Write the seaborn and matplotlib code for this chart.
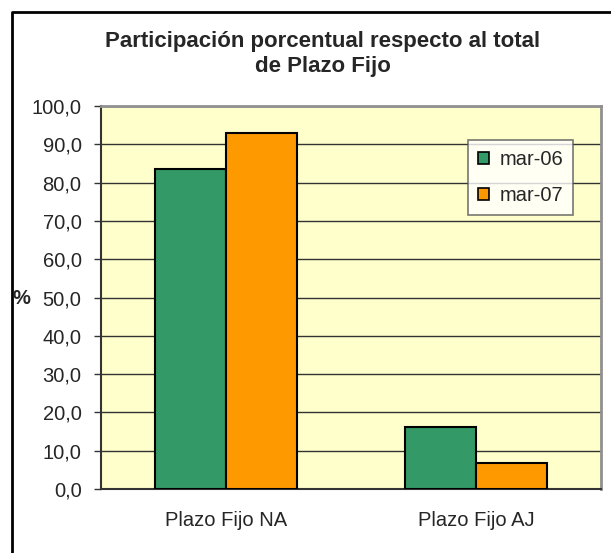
import pandas as pd
import numpy as np
import matplotlib
matplotlib.use("Agg")
import matplotlib.pyplot as plt
import seaborn as sns
from matplotlib.patches import Rectangle
from matplotlib.lines import Line2D

#--------------------data-------------------------------------------------------
categorias = ["Plazo Fijo NA", "Plazo Fijo AJ"]
periodos = ["mar-06", "mar-07"]
valores_mar06 = [83.5, 16.3]
valores_mar07 = [93.0, 6.9]
y_ticks = [0, 10, 20, 30, 40, 50, 60, 70, 80, 90, 100]
y_tick_labels = ["0,0", "10,0", "20,0", "30,0", "40,0", "50,0",
                 "60,0", "70,0", "80,0", "90,0", "100,0"]
titulo = "Participación porcentual respecto al total\nde Plazo Fijo"

colores = {"mar-06": "#339966", "mar-07": "#FF9900"}

df = pd.DataFrame({
    "categoria": categorias * 2,
    "periodo": [periodos[0]] * 2 + [periodos[1]] * 2,
    "valor": valores_mar06 + valores_mar07,
})

#--------------------plot-------------------------------------------------------
sns.set_style("white")
plt.rcParams['font.family'] = ['Liberation Sans', 'DejaVu Sans']

fig = plt.figure(figsize=(6.11, 5.53), dpi=100)
ax = fig.add_axes([101 / 611, 1 - 489 / 553, 500 / 611, 383 / 553])
ax.set_facecolor("#FFFFCC")

sns.barplot(data=df, x="categoria", y="valor", hue="periodo",
            palette=colores, width=0.57, edgecolor="black",
            linewidth=1.5, saturation=1, ax=ax, legend=False, zorder=3)

ax.set_ylim(0, 100)
ax.set_xlim(-0.5, 1.5)
ax.set_yticks(y_ticks)
ax.set_yticklabels(y_tick_labels, fontsize=14.5)
ax.set_xticks([0, 1])
ax.set_xticklabels(categorias, fontsize=14.5)
ax.set_xticks([-0.5, 0.5, 1.5], minor=True)
ax.tick_params(axis="x", which="major", length=0, pad=16)
ax.tick_params(axis="x", which="minor", length=5, width=1, color="#333333", direction="out")
ax.tick_params(axis="y", length=5, width=1, color="#333333", direction="out", pad=9, left=True)
ax.set_xlabel("")
ax.set_ylabel("")

ax.yaxis.grid(True, color="#333333", linewidth=1, zorder=0)
ax.set_axisbelow(True)

for s in ["left", "bottom"]:
    ax.spines[s].set_color("#333333")
    ax.spines[s].set_linewidth(1.5)
for s in ["top", "right"]:
    ax.spines[s].set_color("#909090")
    ax.spines[s].set_linewidth(2)

handles = [Rectangle((0, 0), 1, 1, facecolor=colores[p], edgecolor="black", linewidth=1.2)
           for p in periodos]
leg = ax.legend(handles, periodos, loc="upper left", bbox_to_anchor=(0.734, 0.912),
                fontsize=14.5, frameon=True, fancybox=False, edgecolor="#555555",
                handlelength=0.55, handleheight=0.55, handletextpad=0.5,
                labelspacing=0.85, borderpad=0.5, borderaxespad=0)
leg.get_frame().set_linewidth(1.2)
leg.set_zorder(5)

fig.text(323 / 611, 1 - 54 / 553, titulo, ha="center", va="center",
         fontsize=16, fontweight="bold", linespacing=1.3)
fig.text(21.5 / 611, 1 - 298 / 553, "%", ha="center", va="center",
         fontsize=14.5, fontweight="bold")

# outer chart frame (only left and top visible)
fig.add_artist(Line2D([11.5 / 611, 11.5 / 611, 1.0], [0.0, 1 - 12 / 553, 1 - 12 / 553],
                      transform=fig.transFigure, color="black", linewidth=2))

fig.savefig("out.png", dpi=100)
